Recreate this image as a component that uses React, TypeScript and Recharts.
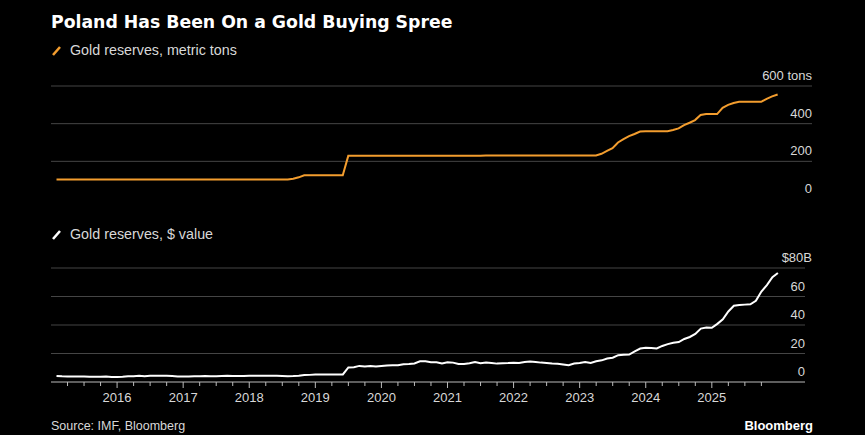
import React from 'react';
import { LineChart, Line, XAxis, YAxis, ReferenceLine } from 'recharts';

// months Jan 2015 .. Dec 2025 (month-end readings)
const YEARS = [2015, 2016, 2017, 2018, 2019, 2020, 2021, 2022, 2023, 2024, 2025];
const MONTHS = [1, 2, 3, 4, 5, 6, 7, 8, 9, 10, 11, 12];

const goldTons = [
  104, 104, 104, 104, 104, 104, 104, 104, 104, 104, 104, 104,
  104, 104, 104, 104, 104, 104, 104, 104, 104, 104, 104, 104,
  104, 104, 104, 104, 104, 104, 104, 104, 104, 104, 104, 104,
  104, 104, 104, 104, 104, 104, 104, 108, 115, 126, 126, 126,
  126, 126, 126, 126, 126, 229, 229, 229, 229, 229, 229, 229,
  229, 229, 229, 229, 229, 229, 229, 229, 229, 229, 229, 229,
  229, 229, 229, 229, 229, 229, 231, 231, 231, 231, 231, 231,
  231, 231, 231, 231, 231, 231, 231, 231, 231, 231, 231, 231,
  231, 231, 231, 240, 255, 270, 300, 318, 334, 345, 358, 360,
  360, 360, 360, 360, 366, 375, 392, 405, 419, 446, 451, 451,
  451, 484, 500, 510, 516, 516, 516, 516, 516, 532, 545, 555,
];

const goldValue = [
  4.2, 4.0, 3.9, 3.9, 3.9, 3.8, 3.6, 3.7, 3.7, 3.8, 3.5, 3.5,
  3.7, 4.0, 4.1, 4.3, 4.0, 4.3, 4.4, 4.3, 4.3, 4.2, 3.9, 3.8,
  3.9, 4.1, 4.1, 4.2, 4.1, 4.1, 4.2, 4.3, 4.2, 4.2, 4.2, 4.3,
  4.4, 4.4, 4.4, 4.4, 4.3, 4.2, 4.1, 4.2, 4.4, 4.9, 5.0, 5.2,
  5.3, 5.3, 5.2, 5.2, 5.3, 10.2, 10.4, 11.3, 10.9, 11.2, 10.8, 11.2,
  11.6, 11.7, 11.8, 12.5, 12.7, 13.0, 14.5, 14.5, 13.9, 13.8, 13.0, 13.9,
  13.6, 12.7, 12.6, 13.1, 14.0, 13.2, 13.6, 13.4, 12.9, 13.2, 13.3, 13.5,
  13.3, 14.0, 14.3, 14.0, 13.6, 13.4, 13.0, 12.8, 12.3, 11.8, 13.0, 13.3,
  14.1, 13.3, 14.5, 15.2, 16.5, 17.0, 18.8, 19.2, 19.3, 21.5, 23.5, 24.0,
  23.8, 23.5, 25.3, 26.6, 27.6, 28.0, 30.2, 31.6, 33.7, 37.5, 38.2, 38.0,
  40.8, 44.0, 49.5, 53.5, 54.0, 54.3, 54.5, 57.0, 63.5, 68.0, 73.5, 76.5,
];

const tonTicks = [0, 200, 400, 600];
const valueTicks = [0, 20, 40, 60, 80];
const yearLabels = [2016, 2017, 2018, 2019, 2020, 2021, 2022, 2023, 2024, 2025];

const quarterTicks = YEARS.flatMap((y) => [y, y + 0.25, y + 0.5, y + 0.75]).filter(
  (t) => t > 2015 && t < 2026
);

const data = YEARS.flatMap((y, yi) =>
  MONTHS.map((m, mi) => ({
    t: y + m / 12,
    tons: goldTons[yi * 12 + mi],
    value: goldValue[yi * 12 + mi],
  }))
);

const ORANGE = '#F39D2E';
const GRID = '#454545';
const LABEL = '#d8d8d8';
const SANS = '"Liberation Sans", Arial, sans-serif';

const TonTick = (props: any) => {
  const v = props.payload.value;
  return (
    <text x={812} y={props.y - 6} textAnchor="end" fill={LABEL} fontSize={13} fontFamily={SANS}>
      {v === 600 ? '600 tons' : v}
    </text>
  );
};

const ValueTick = (props: any) => {
  const v = props.payload.value;
  return (
    <text x={v === 80 ? 812 : 805} y={props.y - 6} textAnchor="end" fill={LABEL} fontSize={13} fontFamily={SANS}>
      {v === 80 ? '$80B' : v}
    </text>
  );
};

const AXIS_Y = 167;

const TimeTick = (props: any) => {
  const v = props.payload.value;
  const major = Math.abs(v - Math.round(v)) < 0.001;
  return (
    <g>
      <line x1={props.x} x2={props.x} y1={AXIS_Y} y2={AXIS_Y + (major ? 6 : 4)} stroke="#bbb" strokeWidth={1} />
      {major && yearLabels.includes(Math.round(v)) ? (
        <text x={props.x} y={AXIS_Y + 20} textAnchor="middle" fill={LABEL} fontSize={13} fontFamily={SANS}>
          {Math.round(v)}
        </text>
      ) : null}
    </g>
  );
};

export default function App() {
  return (
    <div style={{ position: 'absolute', left: 0, top: 0, width: 865, height: 435, background: '#000', overflow: 'hidden' }}>
      <LineChart
        width={865}
        height={215}
        data={data}
        margin={{ top: 86, right: 33, bottom: 16, left: 51 }}
        style={{ position: 'absolute', left: 0, top: 0 }}
      >
        <XAxis type="number" dataKey="t" domain={[2015, 2026.52]} hide />
        <YAxis
          orientation="right"
          width={20}
          domain={[0, 600]}
          ticks={tonTicks}
          interval={0}
          axisLine={false}
          tickLine={false}
          tick={<TonTick />}
        />
        {tonTicks.filter((t) => t > 0).map((t) => (
          <ReferenceLine key={t} y={t} stroke={GRID} strokeWidth={1} />
        ))}
        <Line type="linear" dataKey="tons" stroke={ORANGE} strokeWidth={2} dot={false} isAnimationActive={false} />
      </LineChart>

      <LineChart
        width={865}
        height={220}
        data={data}
        margin={{ top: 53, right: 40, bottom: 23, left: 51 }}
        style={{ position: 'absolute', left: 0, top: 215 }}
      >
        <XAxis
          type="number"
          dataKey="t"
          domain={[2015, 2026.41]}
          ticks={quarterTicks}
          interval={0}
          height={30}
          axisLine={{ stroke: '#bbb', strokeWidth: 1 }}
          tickLine={false}
          tick={<TimeTick />}
        />
        <YAxis
          orientation="right"
          width={20}
          domain={[0, 80]}
          ticks={valueTicks}
          interval={0}
          axisLine={false}
          tickLine={false}
          tick={<ValueTick />}
        />
        {valueTicks.filter((t) => t > 0).map((t) => (
          <ReferenceLine key={t} y={t} stroke={GRID} strokeWidth={1} />
        ))}
        <Line type="linear" dataKey="value" stroke="#ffffff" strokeWidth={2} dot={false} isAnimationActive={false} />
      </LineChart>

      <svg width={865} height={435} style={{ position: 'absolute', left: 0, top: 0, pointerEvents: 'none' }}>
        <text x={51} y={28} fill="#fff" fontSize={17.3} fontWeight="bold" fontFamily='"DejaVu Sans", sans-serif'>
          Poland Has Been On a Gold Buying Spree
        </text>
        <line x1={53} y1={55} x2={60} y2={47} stroke={ORANGE} strokeWidth={2.5} />
        <text x={70} y={55} fill={LABEL} fontSize={14.3} fontFamily={SANS}>
          Gold reserves, metric tons
        </text>
        <line x1={53} y1={239} x2={60} y2={231} stroke="#fff" strokeWidth={2.5} />
        <text x={70} y={239} fill={LABEL} fontSize={14.3} fontFamily={SANS}>
          Gold reserves, $ value
        </text>
        <text x={51} y={430} fill={LABEL} fontSize={12.5} fontFamily={SANS}>
          Source: IMF, Bloomberg
        </text>
        <text x={813} y={430} textAnchor="end" fill="#fff" fontSize={13} fontWeight="bold" fontFamily={SANS}>
          Bloomberg
        </text>
      </svg>
    </div>
  );
}
